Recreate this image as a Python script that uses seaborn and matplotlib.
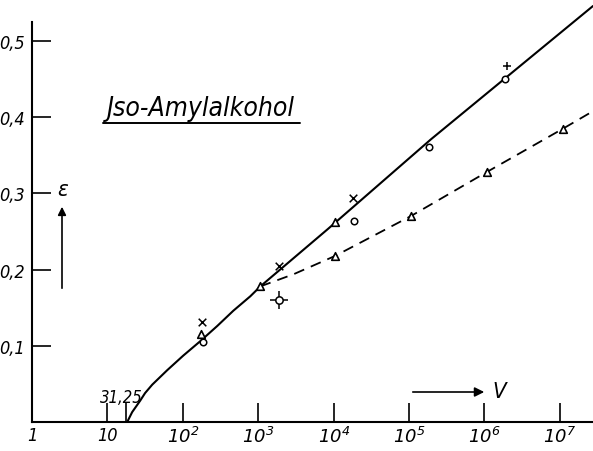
import numpy as np
import pandas as pd
import matplotlib
matplotlib.use("Agg")
import matplotlib.pyplot as plt
from matplotlib import font_manager
import seaborn as sns

# ---------------- data ----------------
solid_V = [18.3, 21.3, 27.2, 31.6, 39.3, 62.1, 101, 170, 286, 467, 785, 1067, 8318, 195000, 2.75e7]
solid_eps = [0.0, 0.013, 0.028, 0.038, 0.049, 0.068, 0.087, 0.106, 0.126, 0.146, 0.165, 0.178, 0.253, 0.371, 0.546]

dashed_V = [1067, 2950, 10470, 104700, 1.07e6, 1.1e7, 2.75e7]
dashed_eps = [0.178, 0.194, 0.218, 0.270, 0.328, 0.385, 0.408]

cross_V = [182, 1862, 18200]
cross_eps = [0.131, 0.205, 0.294]

plus_V = [2.0e6]
plus_eps = [0.467]

circle_V = [186, 18620, 186000, 1.9e6]
circle_eps = [0.105, 0.264, 0.361, 0.450]

tri_V = [174, 1070, 10470]
tri_eps = [0.115, 0.178, 0.262]

tri_dashed_V = [10470, 104700, 1.07e6, 1.1e7]
tri_dashed_eps = [0.218, 0.270, 0.328, 0.385]

circplus_V = [1862]
circplus_eps = [0.160]

x_ticks = [1, 10, 100, 1e3, 1e4, 1e5, 1e6, 1e7]
x_ticklabels = ["1", "10", r"$10^{2}$", r"$10^{3}$", r"$10^{4}$", r"$10^{5}$", r"$10^{6}$", r"$10^{7}$"]
y_ticks = [0.1, 0.2, 0.3, 0.4, 0.5]
y_ticklabels = ["0,1", "0,2", "0,3", "0,4", "0,5"]
start_V = 17.8
start_label = "31,25"
title = "Jso-Amylalkohol"

# ---------------- style ----------------
sns.set_theme(style="white")
names = {f.name for f in font_manager.fontManager.ttflist}
if "Liberation Sans Narrow" in names:
    fam = ["Liberation Sans Narrow", "DejaVu Sans"]
    stretch = "normal"
else:
    fam = ["DejaVu Sans"]
    stretch = "condensed"
plt.rcParams["font.family"] = fam
plt.rcParams["text.color"] = "black"
plt.rcParams["xtick.color"] = "black"
plt.rcParams["ytick.color"] = "black"
plt.rcParams["mathtext.fontset"] = "custom"
plt.rcParams["mathtext.rm"] = fam[0] + ":italic"
plt.rcParams["mathtext.it"] = fam[0] + ":italic"
plt.rcParams["mathtext.default"] = "it"

W, H = 593, 452
fig = plt.figure(figsize=(W / 100, H / 100), dpi=100)
ax = fig.add_axes([32 / W, 1 - 423 / H, (W - 32) / W, (423 - 23) / H])

df_solid = pd.DataFrame({"V": solid_V, "eps": solid_eps})
df_dash = pd.DataFrame({"V": dashed_V, "eps": dashed_eps})
sns.lineplot(data=df_solid, x="V", y="eps", sort=False, color="black", lw=1.5,
             clip_on=False, ax=ax)
sns.lineplot(data=df_dash, x="V", y="eps", sort=False, color="black", lw=1.3,
             linestyle=(0, (6, 4)), clip_on=False, ax=ax)

mk = dict(color="black", ax=ax, legend=False, zorder=5)
sns.scatterplot(x=cross_V, y=cross_eps, marker="x", s=30, linewidth=1.1, **mk)
sns.scatterplot(x=plus_V, y=plus_eps, marker="+", s=40, linewidth=1.1, **mk)
sns.scatterplot(x=circle_V, y=circle_eps, marker="o", s=22, facecolor="white",
                edgecolor="black", linewidth=1.1, ax=ax, legend=False, zorder=5)
sns.scatterplot(x=tri_V, y=tri_eps, marker="^", s=30, facecolor="white",
                edgecolor="black", linewidth=1.2, ax=ax, legend=False, zorder=5)
sns.scatterplot(x=tri_dashed_V, y=tri_dashed_eps, marker="^", s=30, facecolor="white",
                edgecolor="black", linewidth=1.2, ax=ax, legend=False, zorder=5)
sns.scatterplot(x=circplus_V, y=circplus_eps, marker="+", s=180, linewidth=1.1, **mk)
sns.scatterplot(x=circplus_V, y=circplus_eps, marker="o", s=28, facecolor="white",
                edgecolor="black", linewidth=1.1, ax=ax, legend=False, zorder=6)

ax.set_xscale("log")
ax.set_xlim(1, 2.75e7)
ax.set_ylim(0, 0.525)
ax.set_xlabel("")
ax.set_ylabel("")

for s in ["top", "right"]:
    ax.spines[s].set_visible(False)
for s in ["left", "bottom"]:
    ax.spines[s].set_color("black")
    ax.spines[s].set_linewidth(1.5)

fs = 13
ax.set_xticks(x_ticks)
ax.set_xticklabels(x_ticklabels)
ax.set_xticks([start_V], minor=True)
ax.set_yticks(y_ticks)
ax.set_yticklabels(y_ticklabels)
ax.tick_params(axis="x", which="both", direction="in", length=14, width=1.2,
               color="black", pad=3, labelsize=fs, bottom=True)
ax.tick_params(axis="y", direction="in", length=14, width=1.2, color="black",
               pad=5, labelsize=fs, left=True)
for lab in ax.get_xticklabels() + ax.get_yticklabels():
    lab.set_fontstyle("italic")
    lab.set_fontstretch(stretch)
    lab.set_color("black")

ax.text(15.5, 0.033, start_label, ha="center", va="center", fontsize=12,
        fontstyle="italic", fontstretch=stretch)

# title with underline
fig.text(201 / W, 1 - 109 / H, title, ha="center", va="center", fontsize=19,
         fontstyle="italic", fontstretch=stretch)
fig.add_artist(plt.Line2D([103 / W, 300 / W], [1 - 124 / H, 1 - 124 / H],
                          color="black", lw=1.4, transform=fig.transFigure))

# epsilon label and arrow
fig.text(63 / W, 1 - 190 / H, "ε", ha="center", va="center", fontsize=16,
         fontstyle="italic", fontstretch=stretch)
ax.annotate("", xy=(62 / W, 1 - 205 / H), xytext=(62 / W, 1 - 292 / H),
            xycoords="figure fraction", textcoords="figure fraction",
            arrowprops=dict(arrowstyle="-|>", color="black", lw=1.2,
                            mutation_scale=12))

# V label and arrow
fig.text(499 / W, 1 - 392 / H, "V", ha="center", va="center", fontsize=16,
         fontstyle="italic", fontstretch=stretch)
ax.annotate("", xy=(487 / W, 1 - 393 / H), xytext=(410 / W, 1 - 393 / H),
            xycoords="figure fraction", textcoords="figure fraction",
            arrowprops=dict(arrowstyle="-|>", color="black", lw=1.2,
                            mutation_scale=14))

fig.savefig("out.png", dpi=100, facecolor="white")
